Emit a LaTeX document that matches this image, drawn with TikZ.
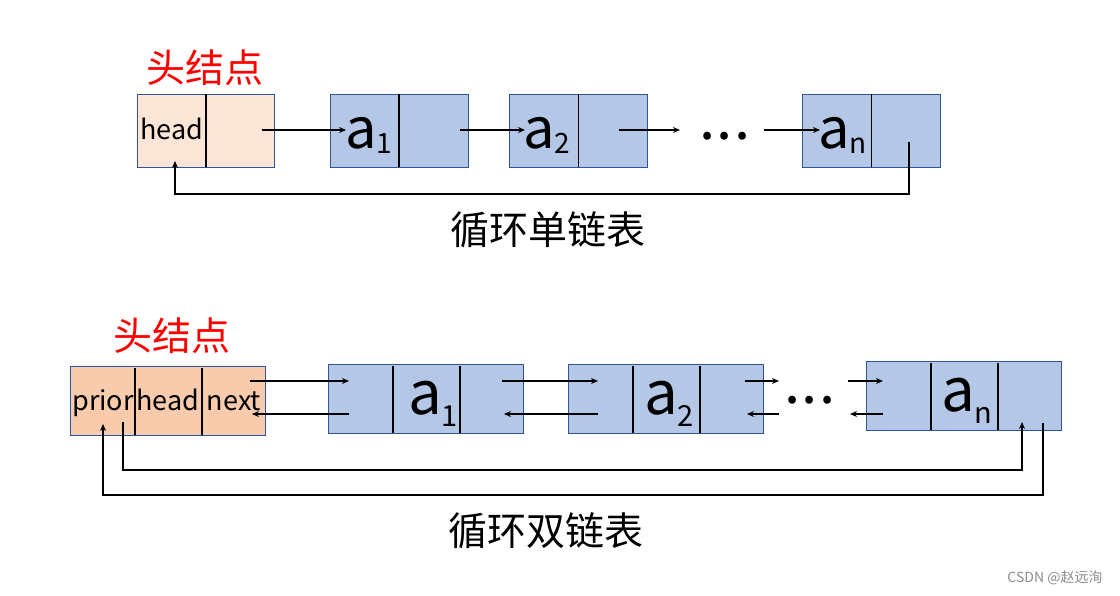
\documentclass[tikz,border=0pt]{standalone}
\usepackage{fontspec}
\setmainfont{Noto Sans CJK SC}
\usetikzlibrary{arrows.meta}

\definecolor{headlight}{HTML}{FBE5D6}
\definecolor{headdark}{HTML}{F8CBAD}
\definecolor{datafill}{HTML}{B4C7E7}
\definecolor{boxline}{HTML}{2F5597}

% element text: a with a lowered subscript
\newcommand{\elemtext}[4]{\fontsize{#1}{#1}\selectfont a\raisebox{-#3pt}{\fontsize{#2}{#2}\selectfont #4}}

\begin{document}
\begin{tikzpicture}[
      x=1pt, y=-1pt,
      box/.style={draw=boxline, line width=0.8pt, inner sep=0pt, outer sep=0pt},
      headbox/.style={box, fill=headlight, minimum width=137pt, minimum height=73pt},
      dheadbox/.style={box, fill=headdark, minimum width=195pt, minimum height=69pt},
      topbox/.style={box, fill=datafill, minimum width=138pt, minimum height=73pt},
      botbox/.style={box, fill=datafill, minimum width=195pt, minimum height=69pt},
      divider/.style={line width=1.6pt, black},
      ptr/.style={line width=1.3pt, -{Stealth[length=7pt, width=6pt]}},
      retptr/.style={line width=1.8pt, -{Stealth[length=7pt, width=6pt]}},
      redtitle/.style={text=red, font=\fontsize{39}{39}\selectfont},
      caption/.style={font=\fontsize{39}{39}\selectfont},
      fieldname/.style={inner sep=0pt, anchor=base},
      elem/.style={inner sep=0pt, anchor=base west},
      dots/.style={font=\fontsize{58}{58}\selectfont, inner sep=0pt, anchor=base}
    ]
    \useasboundingbox (0,0) rectangle (1120,596);

    % ---- circular singly linked list ----
    \node[redtitle] (top title) at (205,68) {头结点};
    \node[headbox] (top head) at (205.5,130.5) {};
    \draw[divider] (top head.north) ++(0.5,0) -- ++(0,73);
    \node[fieldname, font=\fontsize{27}{27}\selectfont] (top head text) at (172,140) {head};

    % data nodes
    \foreach \nm/\x/\s/\tx in {ta1/399/1/345, ta2/578.5/2/523, tan/871.5/n/818} {
      \node[topbox] (\nm) at (\x,130.5) {};
      \draw[divider] (\nm.north) -- (\nm.south);
      \node[elem] (\nm text) at (\tx,149) {\elemtext{56}{28}{5}{\s}};
    }
    \node[dots] (top dots) at (725,140) {.\kern1pt.\kern1pt.};

    % next pointers
    \foreach \i/\xa/\xb in {1/262/346, 2/460/525, 3/619/680, 4/764/820} {
      \coordinate (tnext\i s) at (\xa,130);
      \coordinate (tnext\i e) at (\xb,130);
      \draw[ptr] (tnext\i s) -- (tnext\i e);
    }

    % back to the head
    \coordinate (tan ret) at (909,142);
    \coordinate (top head ret) at (175,161);
    \coordinate (top low) at (0,194);
    \draw[retptr] (tan ret) -- (tan ret |- top low) -- (top head ret |- top low) -- (top head ret);

    \node[caption] (top caption) at (548,230) {循环单链表};

    % ---- circular doubly linked list ----
    \node[redtitle] (bot title) at (172,336) {头结点};
    \node[dheadbox] (bot head) at (167.5,400.5) {};
    \draw[divider] (135,368) -- (135,435);
    \draw[divider] (202,368) -- (202,435);
    \foreach \nm/\x/\t in {prior/103/prior, hd/168/head, next/234/next} {
      \node[fieldname, font=\fontsize{27}{27}\selectfont] (bot \nm) at (\x,410) {\t};
    }

    % data nodes
    \foreach \nm/\x/\y/\s/\tx in {ba1/425.5/398.5/1/408, ba2/665.5/398.5/2/644, ban/963.5/395.5/n/941} {
      \node[botbox] (\nm) at (\x,\y) {};
      \draw[divider] (\x-32.5,\y-32.5) -- (\x-32.5,\y+34.5);
      \draw[divider] (\x+34.5,\y-32.5) -- (\x+34.5,\y+34.5);
      \node[elem] (\nm text) at (\tx,\y+15.5) {\elemtext{60}{29}{12}{\s}};
    }
    \node[dots] (bot dots) at (810,403) {.\kern1pt.\kern1pt.};

    % next and prior pointers
    \foreach \i/\xa/\xb in {1/250/349, 2/502/598, 3/745/779, 4/848/883} {
      \coordinate (bnext\i s) at (\xa,381);
      \coordinate (bnext\i e) at (\xb,381);
      \coordinate (bprior\i s) at (\xb,414);
      \coordinate (bprior\i e) at (\xa+2,414);
      \draw[ptr] (bnext\i s) -- (bnext\i e);
      \draw[ptr] (bprior\i s) -- (bprior\i e);
    }

    % head <-> tail
    \coordinate (head next ret) at (123,422);
    \coordinate (ban in) at (1022,422);
    \coordinate (ban out) at (1043,423);
    \coordinate (head prior ret) at (103,424);
    \coordinate (bot low1) at (0,470);
    \coordinate (bot low2) at (0,495);
    \draw[retptr] (head next ret) -- (head next ret |- bot low1) -- (ban in |- bot low1) -- (ban in);
    \draw[retptr] (ban out) -- (ban out |- bot low2) -- (head prior ret |- bot low2) -- (head prior ret);

    \node[caption] (bot caption) at (546,531) {循环双链表};

    \node[text=black!45, font=\fontsize{14}{14}\selectfont] (mark) at (1055,578) {CSDN @赵远洵};
  \end{tikzpicture}
\end{document}
